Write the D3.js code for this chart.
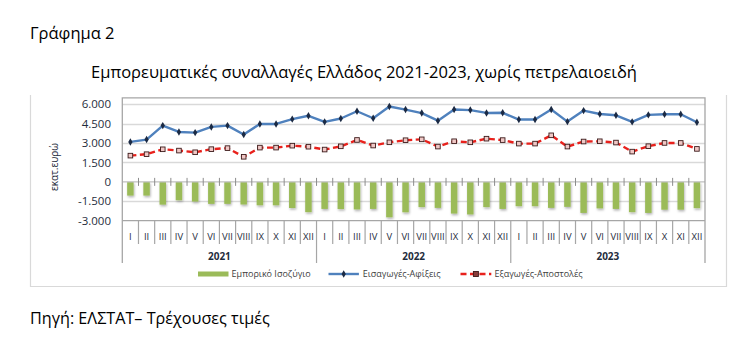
<!DOCTYPE html>
<html>
<head>
<meta charset="utf-8">
<script src="https://cdn.jsdelivr.net/npm/d3@7"></script>
<style>
  body { margin: 0; background: #fff; }
  text { font-family: "Open Sans", "Noto Sans", sans-serif; }
</style>
</head>
<body>
<svg id="chart" width="753" height="349"></svg>
<script>
// Monthly merchandise trade of Greece, excluding petroleum products (million euro)
const years = ["2021", "2022", "2023"];
const months = ["I", "II", "III", "IV", "V", "VI", "VII", "VIII", "IX", "X", "XI", "XII"];

// Imports-Arrivals
const imports = [
  3090, 3270, 4350, 3860, 3810, 4250, 4350, 3660, 4480, 4480, 4850, 5110,
  4640, 4900, 5460, 4920, 5830, 5590, 5320, 4730, 5600, 5550, 5330, 5340,
  4820, 4820, 5590, 4660, 5510, 5250, 5150, 4640, 5180, 5230, 5230, 4610
];
// Exports-Dispatches
const exportsData = [
  2030, 2140, 2520, 2420, 2290, 2530, 2610, 1940, 2650, 2650, 2800, 2720,
  2500, 2750, 3240, 2810, 3060, 3220, 3290, 2730, 3140, 3060, 3340, 3230,
  2960, 2960, 3600, 2730, 3120, 3140, 3040, 2340, 2760, 3010, 3010, 2550
];
// Trade balance
const balance = [
  -1060, -1060, -1760, -1420, -1520, -1700, -1700, -1750, -1810, -1810, -2020, -2340,
  -2090, -2100, -2130, -2090, -2740, -2350, -1950, -2010, -2450, -2520, -1950, -2090,
  -1880, -1880, -2010, -1930, -2400, -2050, -2090, -2340, -2400, -2150, -2150, -2030
];
const yTicks = [-3000, -1500, 0, 1500, 3000, 4500, 6000];

const seriesNames = ["Εμπορικό Ισοζύγιο", "Εισαγωγές-Αφίξεις", "Εξαγωγές-Αποστολές"];

const keys = [];
years.forEach(y => months.forEach(m => keys.push(y + "-" + m)));

const svg = d3.select("#chart");
const gridColor = "#d9d9d9";
const axisColor = "#a6a6a6";
const textColor = "#404040";
const blue = "#4f81bd";
const red = "#e8211c";
const green = "#9bbb59";

const plot = { left: 122.3, right: 705, top: 97.8, bottom: 220.7 };

const x = d3.scaleBand().domain(keys).range([plot.left, plot.right])
  .paddingInner(0.6).paddingOuter(0.3);
const y = d3.scaleLinear().domain([-3000, 6500]).range([plot.bottom, plot.top]);
const cx = k => x(k) + x.bandwidth() / 2;

const greek = d3.formatLocale({ decimal: ",", thousands: ".", grouping: [3], currency: ["", " €"], minus: "-" });
const fmt = greek.format(",");

// Document captions
svg.append("text").attr("x", 30).attr("y", 39).attr("font-size", 16.5).attr("fill", "#000")
  .text("Γράφημα 2");
svg.append("text").attr("x", 364).attr("y", 78).attr("text-anchor", "middle")
  .attr("font-size", 16.5).attr("fill", "#000")
  .text("Εμπορευματικές συναλλαγές Ελλάδος 2021-2023, χωρίς πετρελαιοειδή");
svg.append("text").attr("x", 30).attr("y", 324).attr("font-size", 16.2).attr("fill", "#000")
  .text("Πηγή: ΕΛΣΤΑΤ– Τρέχουσες τιμές");

// Chart outer frame (left, right, bottom)
svg.append("path")
  .attr("d", "M30.5,95 V286.5 H726.5 V95")
  .attr("fill", "none").attr("stroke", gridColor).attr("stroke-width", 1.2);

// Bar shadow
const defs = svg.append("defs");
const f = defs.append("filter").attr("id", "shadow").attr("x", "-50%").attr("y", "-20%")
  .attr("width", "200%").attr("height", "160%");
f.append("feDropShadow").attr("dx", 0.8).attr("dy", 1.6).attr("stdDeviation", 0.8)
  .attr("flood-color", "#000").attr("flood-opacity", 0.3);

// Horizontal gridlines
svg.append("g").selectAll("line").data(yTicks.filter(v => v !== 0 && v !== -3000)).join("line")
  .attr("x1", plot.left).attr("x2", plot.right)
  .attr("y1", d => Math.round(y(d)) + 0.5).attr("y2", d => Math.round(y(d)) + 0.5)
  .attr("stroke", gridColor).attr("stroke-width", 1.5);

// Value axis labels
svg.append("g").selectAll("text").data(yTicks).join("text")
  .attr("x", 111).attr("y", d => y(d)).attr("dy", "0.35em")
  .attr("text-anchor", "end").attr("font-size", 11.5).attr("fill", "#1f2d3d")
  .text(d => fmt(d));

// Value axis title
svg.append("text")
  .attr("transform", `translate(58,167) rotate(-90)`)
  .attr("text-anchor", "middle").attr("font-size", 10).attr("fill", "#1f2d3d")
  .text("εκατ.ευρώ");

// Trade balance bars
svg.append("g").attr("filter", "url(#shadow)")
  .selectAll("rect").data(keys).join("rect")
  .attr("x", d => x(d))
  .attr("width", x.bandwidth())
  .attr("y", (d, i) => Math.min(y(0), y(balance[i])))
  .attr("height", (d, i) => Math.abs(y(balance[i]) - y(0)))
  .attr("fill", green);

// Zero line with crossing tick marks
svg.append("line").attr("x1", plot.left).attr("x2", plot.right)
  .attr("y1", y(0)).attr("y2", y(0)).attr("stroke", "#bfbfbf").attr("stroke-width", 1.2);
const boundaries = keys.map(k => x(k) - x.step() * x.paddingInner() / 2).concat([plot.right]);
svg.append("g").selectAll("line").data(boundaries.slice(1, -1)).join("line")
  .attr("x1", d => d).attr("x2", d => d)
  .attr("y1", y(0) - 4).attr("y2", y(0) + 4)
  .attr("stroke", "#8c8c8c").attr("stroke-width", 1);

// Imports line
const line = d3.line().x((d, i) => cx(keys[i])).y(d => y(d));
svg.append("path").datum(imports).attr("d", line)
  .attr("fill", "none").attr("stroke", blue).attr("stroke-width", 2.4).attr("stroke-linejoin", "round");
const diamond = d3.symbol().type(d3.symbolDiamond).size(16);
svg.append("g").selectAll("path").data(imports).join("path")
  .attr("d", diamond)
  .attr("transform", (d, i) => `translate(${cx(keys[i])},${y(d)})`)
  .attr("fill", "#1b2a44");

// Exports line
svg.append("path").datum(exportsData).attr("d", line)
  .attr("fill", "none").attr("stroke", red).attr("stroke-width", 2.4)
  .attr("stroke-dasharray", "6,3.5");
svg.append("g").selectAll("rect").data(exportsData).join("rect")
  .attr("x", (d, i) => cx(keys[i]) - 2.3).attr("y", d => y(d) - 2.3)
  .attr("width", 4.6).attr("height", 4.6)
  .attr("fill", "#f0c8c6").attr("stroke", "#3b1a1a").attr("stroke-width", 0.9);

// Plot area frame (top, left, right)
svg.append("path")
  .attr("d", `M${plot.left},263 V${plot.top} H${plot.right} V263`)
  .attr("fill", "none").attr("stroke", axisColor).attr("stroke-width", 1.3);

// Category axis
svg.append("line").attr("x1", plot.left).attr("x2", plot.right)
  .attr("y1", plot.bottom).attr("y2", plot.bottom)
  .attr("stroke", axisColor).attr("stroke-width", 1.3);
svg.append("g").selectAll("line").data(boundaries.slice(1, -1)).join("line")
  .attr("x1", d => d).attr("x2", d => d)
  .attr("y1", plot.bottom).attr("y2", (d, i) => (i + 1) % 12 === 0 ? 263 : 244)
  .attr("stroke", axisColor).attr("stroke-width", 1.2);

svg.append("g").selectAll("text").data(keys).join("text")
  .attr("x", d => cx(d)).attr("y", 239.5)
  .attr("text-anchor", "middle").attr("font-size", 9.5).attr("fill", "#1f2d3d")
  .text((d, i) => months[i % 12]);

svg.append("g").selectAll("text").data(years).join("text")
  .attr("x", (d, i) => (cx(keys[i * 12]) + cx(keys[i * 12 + 11])) / 2).attr("y", 260)
  .attr("text-anchor", "middle").attr("font-size", 10).attr("font-weight", "bold").attr("fill", "#1f2d3d")
  .text(d => d);

// Legend
const lg = svg.append("g");
const ly = 274;
lg.append("rect").attr("x", 198).attr("y", ly - 2.5).attr("width", 30.5).attr("height", 5).attr("fill", green);
lg.append("text").attr("x", 231.6).attr("y", ly).attr("dy", "0.35em")
  .attr("font-size", 9).attr("fill", textColor).text(seriesNames[0]);
lg.append("line").attr("x1", 328.5).attr("x2", 358.9).attr("y1", ly).attr("y2", ly)
  .attr("stroke", blue).attr("stroke-width", 2.4);
lg.append("path").attr("d", diamond).attr("transform", `translate(343.7,${ly})`).attr("fill", "#1b2a44");
lg.append("text").attr("x", 362.8).attr("y", ly).attr("dy", "0.35em")
  .attr("font-size", 9).attr("fill", textColor).text(seriesNames[1]);
lg.append("line").attr("x1", 460.5).attr("x2", 491.3).attr("y1", ly).attr("y2", ly)
  .attr("stroke", red).attr("stroke-width", 2.4).attr("stroke-dasharray", "6,3.5");
lg.append("rect").attr("x", 475.9 - 2.5).attr("y", ly - 2.5).attr("width", 5).attr("height", 5)
  .attr("fill", "#8a3c3a").attr("stroke", "#3b1a1a").attr("stroke-width", 0.9);
lg.append("text").attr("x", 494.5).attr("y", ly).attr("dy", "0.35em")
  .attr("font-size", 9).attr("fill", textColor).text(seriesNames[2]);
</script>
</body>
</html>
